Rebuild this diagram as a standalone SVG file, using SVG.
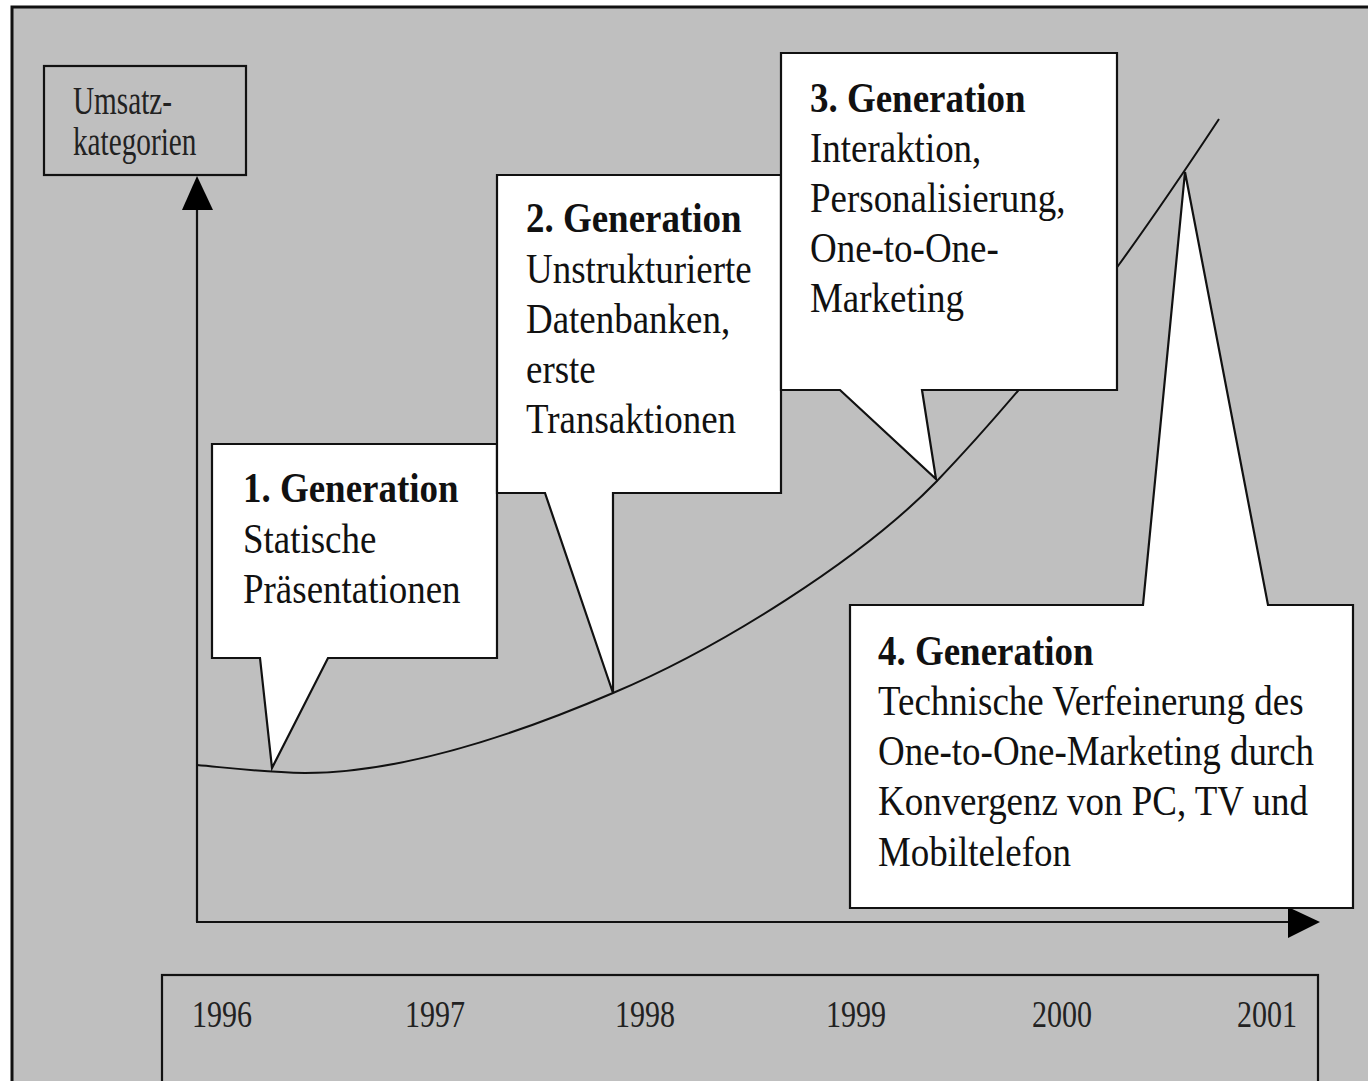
<svg xmlns="http://www.w3.org/2000/svg" width="1368" height="1081" viewBox="0 0 1368 1081">
<style>
.frame{fill:#bfbfbf;stroke:#111;stroke-width:3}
.box{fill:#bfbfbf;stroke:#111;stroke-width:2.2}
.callout{fill:#fff;stroke:#111;stroke-width:2.2;stroke-linejoin:miter}
.line{fill:none;stroke:#111;stroke-width:2.2}
.curve{fill:none;stroke:#111;stroke-width:2}
.head{fill:#000}
.t{font-family:"Liberation Serif","Times New Roman",serif;font-size:42px;fill:#111}
.b{font-weight:bold}
.s{font-family:"Liberation Serif","Times New Roman",serif;font-size:39px;fill:#222}
.y{font-family:"Liberation Serif","Times New Roman",serif;font-size:38px;fill:#222}
</style>
<rect width="1368" height="1081" fill="#fff"/>
<rect id="frame" class="frame" x="12" y="7" width="1380" height="1100"/>

<g id="connectors">
  <line class="line" x1="197" y1="208" x2="197" y2="922"/>
  <polygon class="head" points="197,176 182,210 213,210"/>
  <line class="line" x1="196" y1="922" x2="1292" y2="922"/>
  <polygon class="head" points="1320,922 1288,907 1288,938"/>
  <path class="curve" d="M197,765 C230,768 260,772 305,773 C380,773 480,750 613,693 C720,648 860,560 936,482 C988,428 1058,346 1118,266 C1160,208 1190,163 1219,119"/>
</g>

<g id="umsatz">
  <rect class="box" x="44" y="66" width="202" height="109"/>
  <text class="s" transform="translate(73,114) scale(0.75,1)"><tspan x="0" y="0">Umsatz-</tspan><tspan x="0" dy="41">kategorien</tspan></text>
</g>

<g id="gen1">
  <path class="callout" d="M212,444 H497 V658 H328 L272,768 L260,658 H212 Z"/>
  <text class="t" transform="translate(243,502) scale(0.88,1)"><tspan class="b" x="0" y="0">1. Generation</tspan><tspan x="0" dy="51">Statische</tspan><tspan x="0" dy="50">Präsentationen</tspan></text>
</g>

<g id="gen2">
  <path class="callout" d="M497,175 H781 V493 H613 V693 L545,493 H497 Z"/>
  <text class="t" transform="translate(526,232) scale(0.88,1)"><tspan class="b" x="0" y="0">2. Generation</tspan><tspan x="0" dy="51">Unstrukturierte</tspan><tspan x="0" dy="50">Datenbanken,</tspan><tspan x="0" dy="50">erste</tspan><tspan x="0" dy="50">Transaktionen</tspan></text>
</g>

<g id="gen3">
  <path class="callout" d="M781,53 H1117 V390 H922 L936,479 L840,390 H781 Z"/>
  <text class="t" transform="translate(810,112) scale(0.88,1)"><tspan class="b" x="0" y="0">3. Generation</tspan><tspan x="0" dy="50">Interaktion,</tspan><tspan x="0" dy="50">Personalisierung,</tspan><tspan x="0" dy="50">One-to-One-</tspan><tspan x="0" dy="50">Marketing</tspan></text>
</g>

<g id="gen4">
  <path class="callout" d="M850,605 H1143 L1185,172 L1268,605 H1353 V908 H850 Z"/>
  <text class="t" transform="translate(878,665) scale(0.88,1)"><tspan class="b" x="0" y="0">4. Generation</tspan><tspan x="0" dy="50">Technische Verfeinerung des</tspan><tspan x="0" dy="50">One-to-One-Marketing durch</tspan><tspan x="0" dy="50">Konvergenz von PC, TV und</tspan><tspan x="0" dy="51">Mobiltelefon</tspan></text>
</g>

<g id="years">
  <rect class="box" x="162" y="975" width="1156" height="130"/>
  <text class="y" transform="translate(192,1027) scale(0.79,1)">1996</text>
  <text class="y" transform="translate(405,1027) scale(0.79,1)">1997</text>
  <text class="y" transform="translate(615,1027) scale(0.79,1)">1998</text>
  <text class="y" transform="translate(826,1027) scale(0.79,1)">1999</text>
  <text class="y" transform="translate(1032,1027) scale(0.79,1)">2000</text>
  <text class="y" transform="translate(1237,1027) scale(0.79,1)">2001</text>
</g>
</svg>
